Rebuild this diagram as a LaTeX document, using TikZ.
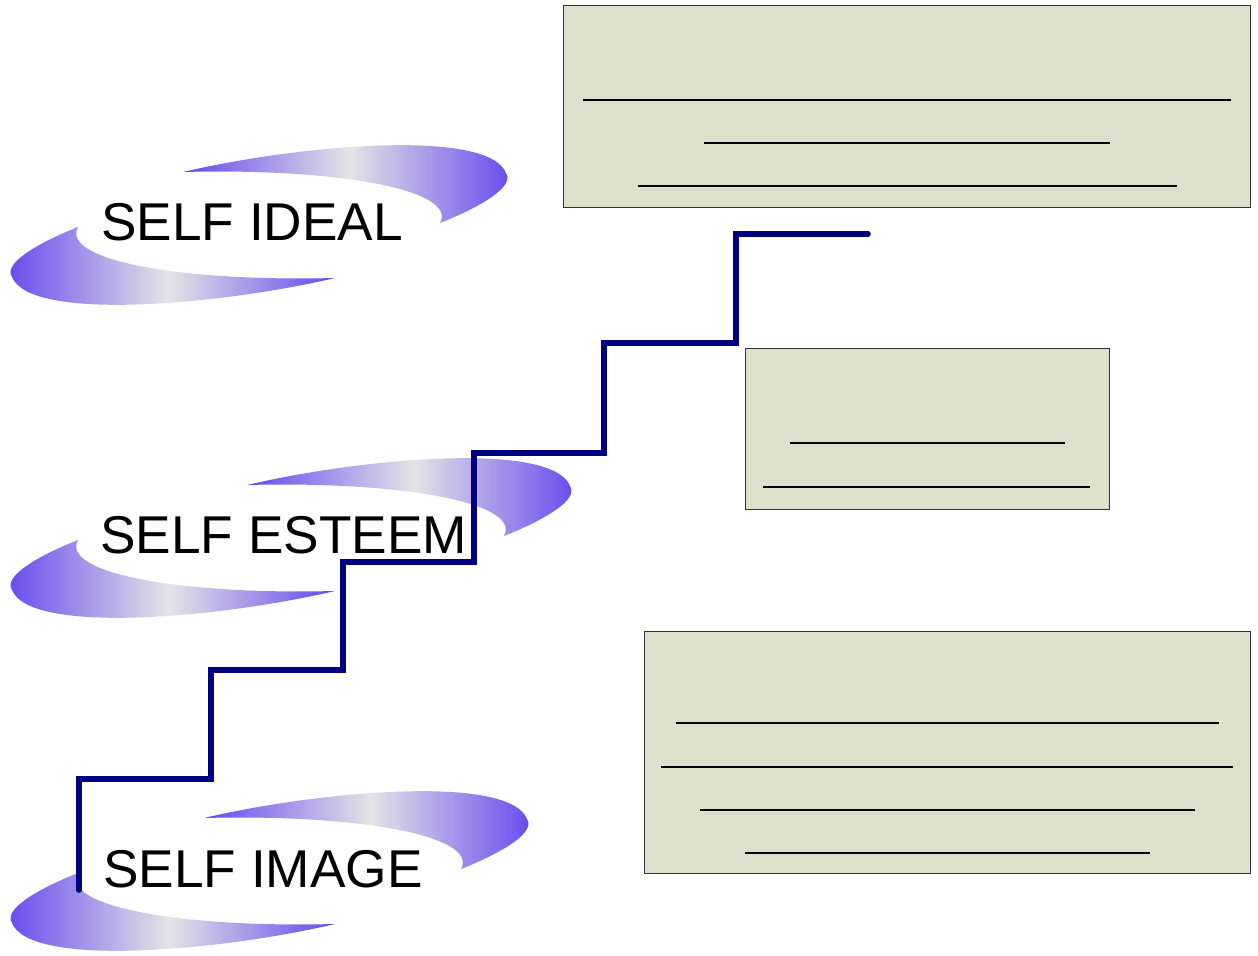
\documentclass[tikz,border=0pt]{standalone}
\usepackage{fontspec}
\setmainfont{Liberation Sans}
\usepackage{tikz}
\definecolor{ourswooshblue}{HTML}{6446EE}
\definecolor{ourswooshgray}{HTML}{E4E4E6}
\definecolor{ournavy}{HTML}{000080}
\definecolor{ourbox}{HTML}{DDE1CB}
\definecolor{ourborder}{HTML}{333333}

% one swoosh = a lower crescent and an upper crescent (the lower turned round)
\newcommand{\lowerswoosh}[1]{\path[swoosh,shift={(#1)}]
  (335,278) .. controls (220,305) and (30,322) .. (12,277)
  .. controls (2,262) and (45,240) .. (78,227)
  .. controls (60,260) and (180,282) .. (335,278) -- cycle;}
\newcommand{\upperswoosh}[1]{\path[swoosh,shift={(#1)}]
  (183,172) .. controls (298,145) and (488,128) .. (506,173)
  .. controls (516,188) and (473,210) .. (440,223)
  .. controls (458,190) and (338,168) .. (183,172) -- cycle;}

\begin{document}
\begin{tikzpicture}[x=0.5pt,y=-0.5pt]

  \tikzstyle{swoosh}=[left color=ourswooshblue,right color=ourswooshblue,middle color=ourswooshgray]
  \tikzstyle{self}=[anchor=base west,inner sep=0,font=\fontsize{26.6}{30}\selectfont]
  \tikzstyle{infobox}=[draw=ourborder,line width=0.5pt,fill=ourbox,inner sep=0]
  \tikzstyle{blank}=[line width=1.3pt]
  \tikzstyle{stair}=[draw=ournavy,line width=2.8pt,line cap=round,line join=miter]

  \useasboundingbox (0,0) rectangle (1258,956);

  \lowerswoosh{0,0}
  \upperswoosh{0,0}
  \lowerswoosh{0,313}
  \upperswoosh{64,313}
  \lowerswoosh{0,646}
  \upperswoosh{21,646}

  \path
  (101,241) node[self](ideal){SELF IDEAL}
  (100,553) node[self](esteem){SELF ESTEEM}
  (103,887) node[self](image){SELF IMAGE};

  \path
  (906.5,107) node[infobox,minimum width=343.5pt,minimum height=101pt](bx){}
  (927,429.5) node[infobox,minimum width=182pt,minimum height=80.5pt](by){}
  (947,752) node[infobox,minimum width=303pt,minimum height=121pt](bz){};

  \draw[blank] (583,100) -- (1231,100);
  \draw[blank] (704,143) -- (1110,143);
  \draw[blank] (638,186) -- (1177,186);

  \draw[blank] (790,443) -- (1065,443);
  \draw[blank] (763,487) -- (1090,487);

  \draw[blank] (676,723) -- (1219,723);
  \draw[blank] (661,767) -- (1233,767);
  \draw[blank] (700,810) -- (1195,810);
  \draw[blank] (745,853) -- (1150,853);

  \draw[stair] (79,890) -- (79,779) -- (211,779) -- (211,670) -- (343,670)
    -- (343,562) -- (474,562) -- (474,453) -- (604,453) -- (604,343)
    -- (736,343) -- (736,234) -- (868,234);
\end{tikzpicture}
\end{document}
